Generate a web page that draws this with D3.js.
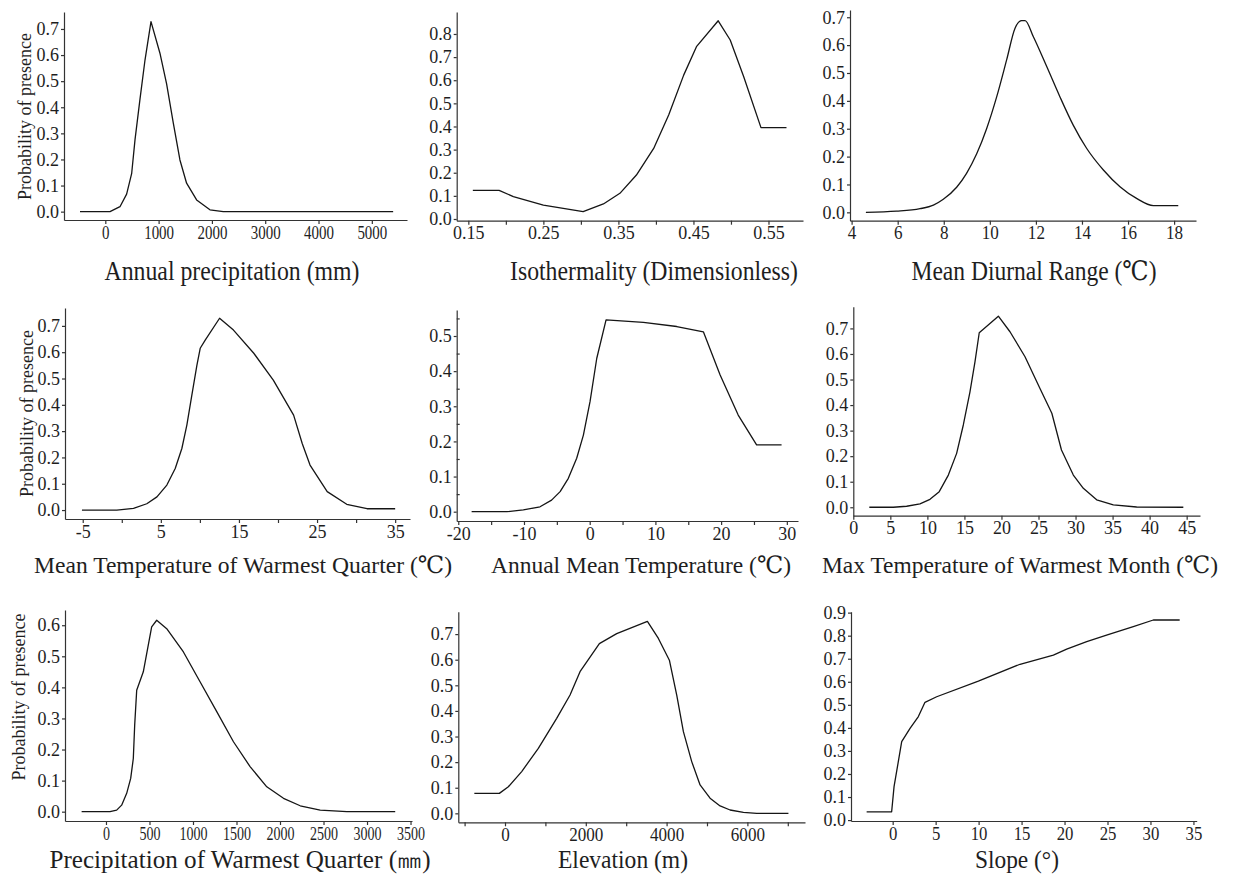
<!DOCTYPE html>
<html>
<head>
<meta charset="utf-8">
<script src="https://cdn.jsdelivr.net/npm/d3@7"></script>
<style>
  body { margin: 0; background: #fff; }
  svg text { font-family: "Liberation Serif", "DejaVu Serif", serif; fill: #1e1e1e; }
  .axis path, .axis line { stroke: #333; stroke-width: 1.2; }
  .axis text { font-size: 18px; }
  .curve { fill: none; stroke: #151515; stroke-width: 1.3; stroke-linejoin: round; }
</style>
</head>
<body>
<svg id="chart" width="1237" height="875"></svg>
<script>
// response curves, values
const annualPrecipX = [-475, 88, 275, 400, 495, 557, 650, 744, 857, 1025, 1150, 1275, 1400, 1525, 1713, 1963, 2213, 5400];
const annualPrecipY = [0, 0, 0.019, 0.067, 0.147, 0.275, 0.43, 0.58, 0.728, 0.607, 0.49, 0.34, 0.198, 0.109, 0.045, 0.007, 0, 0];

const isothermX = [0.156, 0.191, 0.21, 0.25, 0.303, 0.33, 0.352, 0.374, 0.397, 0.417, 0.437, 0.454, 0.483, 0.499, 0.517, 0.540, 0.574];
const isothermY = [0.124, 0.124, 0.097, 0.060, 0.032, 0.065, 0.111, 0.19, 0.305, 0.45, 0.622, 0.745, 0.857, 0.774, 0.615, 0.395, 0.395];

const diurnalX = [4.62, 5.95, 6.97, 7.55, 7.98, 8.56, 8.99, 9.43, 9.86, 10.30, 10.73, 11.09, 11.38, 11.53, 11.89, 12.47, 13.04, 13.62, 14.20, 14.93, 15.65, 16.37, 17.10, 18.18];
const diurnalY = [0, 0.004, 0.013, 0.026, 0.047, 0.09, 0.14, 0.21, 0.30, 0.415, 0.547, 0.66, 0.688, 0.688, 0.63, 0.523, 0.415, 0.313, 0.23, 0.152, 0.092, 0.05, 0.024, 0.024];

const warmQTempX = [-5.1, -0.64, 1.5, 3.2, 4.5, 5.77, 6.84, 7.69, 8.33, 8.97, 9.62, 10.04, 10.68, 12.52, 14.3, 16.9, 19.4, 22.0, 23.1, 24.1, 26.3, 28.8, 31.4, 35.0];
const warmQTempY = [0, 0, 0.006, 0.024, 0.05, 0.095, 0.158, 0.234, 0.323, 0.437, 0.551, 0.615, 0.646, 0.729, 0.684, 0.596, 0.494, 0.361, 0.253, 0.171, 0.07, 0.022, 0.005, 0.005];

const meanTempX = [-17.97, -12.6, -10.1, -7.56, -5.8, -4.5, -3.25, -1.98, -0.96, 0.05, 1.07, 2.49, 8.17, 13.25, 17.3, 19.85, 22.6, 25.4, 29.2];
const meanTempY = [0, 0, 0.005, 0.014, 0.033, 0.057, 0.095, 0.152, 0.218, 0.313, 0.436, 0.546, 0.539, 0.527, 0.512, 0.389, 0.275, 0.19, 0.19];

const maxTempX = [2.16, 5.4, 7.2, 9.0, 10.35, 11.6, 12.83, 13.95, 14.85, 15.75, 16.43, 17.0, 19.58, 21.15, 23.18, 25.2, 26.8, 28.1, 29.7, 31.05, 32.85, 35.1, 38.25, 44.55];
const maxTempY = [0, 0, 0.004, 0.013, 0.031, 0.061, 0.126, 0.211, 0.322, 0.452, 0.57, 0.683, 0.748, 0.687, 0.589, 0.465, 0.368, 0.224, 0.126, 0.074, 0.029, 0.009, 0.001, 0];

const warmQPrecipX = [-280, 46, 123, 180, 238, 284, 314, 330, 353, 429, 525, 583, 698, 890, 1081, 1273, 1465, 1656, 1848, 2040, 2232, 2462, 2768, 3324];
const warmQPrecipY = [0, 0, 0.005, 0.021, 0.059, 0.107, 0.171, 0.279, 0.391, 0.45, 0.595, 0.616, 0.589, 0.514, 0.418, 0.322, 0.225, 0.145, 0.08, 0.043, 0.019, 0.005, 0, 0];

const elevationX = [-759, -140, 83, 413, 825, 1279, 1610, 1857, 2336, 2765, 3525, 3797, 4069, 4251, 4416, 4622, 4829, 5076, 5324, 5572, 5902, 6232, 7016];
const elevationY = [0.078, 0.078, 0.104, 0.163, 0.254, 0.371, 0.462, 0.553, 0.663, 0.702, 0.75, 0.683, 0.598, 0.462, 0.319, 0.202, 0.111, 0.059, 0.029, 0.013, 0.004, 0, 0];

const slopeX = [-3.03, -0.12, 0.16, 1.05, 2.02, 2.99, 3.76, 5.12, 9.97, 14.82, 18.7, 20.25, 22.58, 24.98, 28.0, 30.33, 33.4];
const slopeY = [0.036, 0.036, 0.145, 0.34, 0.398, 0.449, 0.511, 0.535, 0.603, 0.676, 0.716, 0.742, 0.774, 0.803, 0.839, 0.868, 0.868];

// tick values (all ticks) and the ones that carry a label
const annualPrecipTicks = [0, 1000, 2000, 3000, 4000, 5000];
const isothermTicks = [0.15, 0.20, 0.25, 0.30, 0.35, 0.40, 0.45, 0.50, 0.55];
const isothermLabels = [0.15, 0.25, 0.35, 0.45, 0.55];
const diurnalTicks = [4, 6, 8, 10, 12, 14, 16, 18];
const warmQTempTicks = [-5, 0, 5, 10, 15, 20, 25, 30, 35];
const warmQTempLabels = [-5, 5, 15, 25, 35];
const meanTempTicks = [-20, -15, -10, -5, 0, 5, 10, 15, 20, 25, 30];
const meanTempLabels = [-20, -10, 0, 10, 20, 30];
const maxTempTicks = [0, 5, 10, 15, 20, 25, 30, 35, 40, 45];
const warmQPrecipTicks = [0, 500, 1000, 1500, 2000, 2500, 3000, 3500];
const elevationTicks = [-1000, 0, 1000, 2000, 3000, 4000, 5000, 6000, 7000];
const elevationLabels = [0, 2000, 4000, 6000];
const slopeTicks = [0, 5, 10, 15, 20, 25, 30, 35];

const yTicks07 = [0, 0.1, 0.2, 0.3, 0.4, 0.5, 0.6, 0.7];
const yTicks08 = [0, 0.1, 0.2, 0.3, 0.4, 0.5, 0.6, 0.7, 0.8];
const yTicks05 = [0, 0.1, 0.2, 0.3, 0.4, 0.5];
const yMinor05 = [0.05, 0.15, 0.25, 0.35, 0.45, 0.55];
const yTicks06 = [0, 0.1, 0.2, 0.3, 0.4, 0.5, 0.6];
const yTicks09 = [0, 0.1, 0.2, 0.3, 0.4, 0.5, 0.6, 0.7, 0.8, 0.9];

const titles = [
    'Annual precipitation (mm)',
    'Isothermality (Dimensionless)',
    'Mean Diurnal Range (℃)',
    'Mean Temperature of Warmest Quarter (℃)',
    'Annual Mean Temperature (℃)',
    'Max Temperature of Warmest Month (℃)',
    'Precipitation of Warmest Quarter (㎜)',
    'Elevation (m)',
    'Slope (°)'
];
const yLabel = 'Probability of presence';

// panel layout: plot box in pixels, domains, title placement [x, y, width, font]
const panels = [
    { xs: annualPrecipX, ys: annualPrecipY, xt: annualPrecipTicks, yt: yTicks07,
      left: 64, right: 407, top: 12, bottom: 220, xd: [-775, 5660], yd: [-0.032, 0.765],
      tsx: 0.83, title: [232, 280, 255, 27], ylab: [25, 116.5] },
    { xs: isothermX, ys: isothermY, xt: isothermTicks, xl: isothermLabels, yt: yTicks08,
      left: 456.7, right: 803, top: 12, bottom: 220.7, xd: [0.1345, 0.596], yd: [-0.0074, 0.895],
      tsx: 1, title: [654, 280, 288, 27] },
    { xs: diurnalX, ys: diurnalY, xt: diurnalTicks, yt: yTicks07, smooth: true,
      left: 850, right: 1196, top: 10, bottom: 220.7, xd: [3.93, 18.95], yd: [-0.030, 0.726],
      tsx: 0.95, title: [1034, 280, 245, 27] },
    { xs: warmQTempX, ys: warmQTempY, xt: warmQTempTicks, xl: warmQTempLabels, yt: yTicks07,
      left: 65, right: 410, top: 308, bottom: 519, xd: [-7.27, 36.9], yd: [-0.034, 0.768],
      tsx: 1, title: [243, 573, 418, 24], ylab: [26.5, 413.5] },
    { xs: meanTempX, ys: meanTempY, xt: meanTempTicks, xl: meanTempLabels, yt: yTicks05, ym: yMinor05,
      left: 456.7, right: 798, top: 310, bottom: 521, xd: [-20.24, 31.7], yd: [-0.0265, 0.574],
      tsx: 1, title: [641, 573, 300, 24] },
    { xs: maxTempX, ys: maxTempY, xt: maxTempTicks, yt: yTicks07,
      left: 853.3, right: 1200, top: 306.7, bottom: 515.7, xd: [0, 46.8], yd: [-0.033, 0.785],
      tsx: 1, title: [1020, 573, 396, 24] },
    { xs: warmQPrecipX, ys: warmQPrecipY, xt: warmQPrecipTicks, yt: yTicks06,
      left: 65, right: 412, top: 610, bottom: 821, xd: [-471, 3517], yd: [-0.030, 0.649],
      tsx: 0.78, title: [240, 868, 381, 25], ylab: [18.5, 697] },
    { xs: elevationX, ys: elevationY, xt: elevationTicks, xl: elevationLabels, yt: yTicks07,
      left: 458.3, right: 805, top: 611.7, bottom: 822.3, xd: [-1156, 7426], yd: [-0.035, 0.7875],
      tsx: 0.95, title: [623, 868, 130, 25] },
    { xs: slopeX, ys: slopeY, xt: slopeTicks, yt: yTicks09,
      left: 851, right: 1196.7, top: 611.7, bottom: 821, xd: [-4.85, 35.38], yd: [-0.004, 0.904],
      tsx: 0.93, title: [1017, 868, 84, 25] }
];

const svg = d3.select('#chart');
const fmtY = d3.format('.1f');

panels.forEach((p, i) => {
    const g = svg.append('g').attr('class', 'panel');

    const x = d3.scaleLinear().domain(p.xd).range([p.left, p.right]);
    const y = d3.scaleLinear().domain(p.yd).range([p.bottom, p.top]);

    const labelled = p.xl || p.xt;
    const xAxis = d3.axisBottom(x)
        .tickValues(p.xt)
        .tickSize(4)
        .tickSizeOuter(0)
        .tickPadding(2)
        .tickFormat(d => labelled.some(v => Math.abs(v - d) < 1e-9) ? String(d) : '');

    g.append('g')
        .attr('class', 'axis')
        .attr('transform', `translate(0, ${p.bottom})`)
        .call(xAxis)
        .call(a => a.selectAll('text').attr('transform', `scale(${p.tsx}, 1)`));

    const yAxis = d3.axisLeft(y)
        .tickValues(p.yt)
        .tickSize(3)
        .tickSizeOuter(0)
        .tickPadding(2)
        .tickFormat(fmtY);

    g.append('g')
        .attr('class', 'axis')
        .attr('transform', `translate(${p.left}, 0)`)
        .call(yAxis);

    /* minor y ticks */
    if (p.ym) {
        g.append('g')
            .attr('class', 'axis')
            .attr('transform', `translate(${p.left}, 0)`)
            .call(d3.axisRight(y).tickValues(p.ym).tickSize(3).tickSizeOuter(0).tickFormat(''))
            .call(a => a.select('.domain').remove());
    }

    /* curve */
    const line = d3.line()
        .x((d, k) => x(p.xs[k]))
        .y(d => y(d))
        .curve(p.smooth ? d3.curveMonotoneX : d3.curveLinear);

    g.append('path')
        .attr('class', 'curve')
        .attr('d', line(p.ys));

    /* x title */
    g.append('text')
        .attr('x', p.title[0])
        .attr('y', p.title[1])
        .attr('text-anchor', 'middle')
        .attr('textLength', p.title[2])
        .attr('lengthAdjust', 'spacingAndGlyphs')
        .style('font-size', `${p.title[3]}px`)
        .text(titles[i]);

    /* y title on the left column */
    if (p.ylab) {
        g.append('text')
            .attr('transform', `translate(${p.ylab[0]}, ${p.ylab[1]}) rotate(-90)`)
            .attr('text-anchor', 'middle')
            .attr('dominant-baseline', 'central')
            .style('font-size', '18px')
            .text(yLabel);
    }
});
</script>
</body>
</html>
